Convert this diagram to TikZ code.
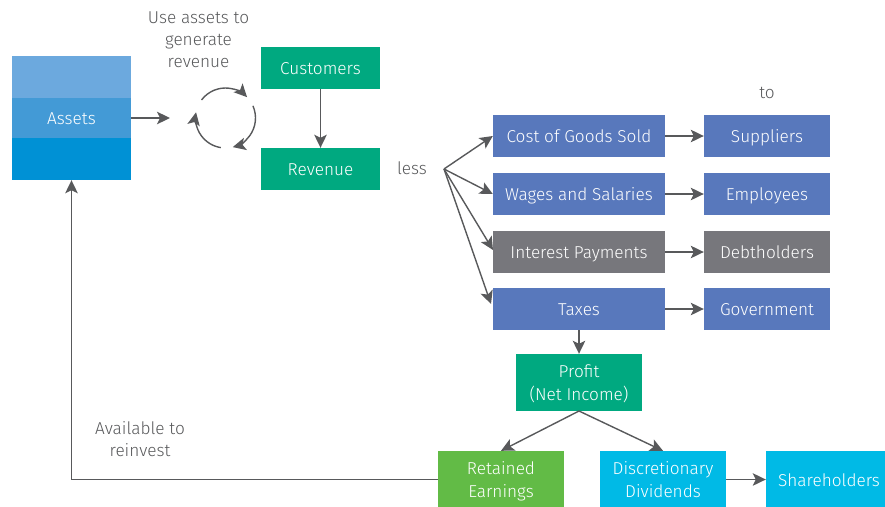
\documentclass[tikz,border=0pt]{standalone}
\usepackage{fontspec}
\setmainfont{Fira Sans}[UprightFont=* Light]
\usetikzlibrary{arrows.meta}
\newcommand{\topfill}{\rule{0pt}{18pt}}
\newcommand{\botfill}{\rule[-4.5pt]{0pt}{4.5pt}}
\definecolor{gtxt}{HTML}{58595B}
\definecolor{gline}{HTML}{58595B}
\definecolor{grn}{HTML}{00A980}
\definecolor{blu}{HTML}{5878BC}
\definecolor{gry}{HTML}{77777C}
\definecolor{lim}{HTML}{62BB46}
\definecolor{cyn}{HTML}{00BAE6}
\definecolor{bandA}{HTML}{6CA9DE}
\definecolor{bandB}{HTML}{439AD6}
\definecolor{bandC}{HTML}{0091D5}
\tikzset{
  x=1pt,y=-1pt,
  box/.style={draw=none,text=white,inner sep=0pt,align=center,font=\fontsize{17.2}{23}\selectfont,anchor=center},
  oneline/.style={box,text height=14.5pt,text depth=1.5pt},
  narrow/.style={oneline,minimum width=126pt,minimum height=42pt},
  wide/.style={oneline,minimum width=172pt,minimum height=42pt},
  band/.style={oneline,minimum width=119pt},
  tall/.style={box,minimum width=126pt,minimum height=57pt},
  lab/.style={text=gtxt,inner sep=0pt,align=center,font=\fontsize{17.2}{22}\selectfont},
  conn/.style={draw=gline,line width=1.4pt,-{Stealth[length=13pt,width=12.5pt,inset=3pt]}},
}
\begin{document}
\begin{tikzpicture}
\useasboundingbox (0,0) rectangle (885,506);
% Assets stack
\node[band,minimum height=42pt,fill=bandA] (atop) at (71.5,77) {};
\node[band,minimum height=40pt,fill=bandB] (assets) at (71.5,118) {Assets};
\node[band,minimum height=42pt,fill=bandC] (abot) at (71.5,159) {};
% Green boxes
\node[oneline,minimum width=119pt,minimum height=42pt,fill=grn] (cust) at (320.5,68) {Customers};
\node[oneline,minimum width=119pt,minimum height=42pt,fill=grn] (rev) at (320.5,169) {Revenue};
% Expense column
\node[wide,fill=blu] (cogs) at (579,136) {Cost of Goods Sold};
\node[wide,fill=blu] (wages) at (579,194) {Wages and Salaries};
\node[wide,fill=gry] (inter) at (579,252) {Interest Payments};
\node[wide,fill=blu] (taxes) at (579,309) {Taxes};
% Recipients
\node[narrow,fill=blu] (supp) at (767,136) {Suppliers};
\node[narrow,fill=blu] (empl) at (767,194) {Employees};
\node[narrow,fill=gry] (debt) at (767,252) {Debtholders};
\node[narrow,fill=blu] (govt) at (767,309) {Government};
% Bottom
\node[box,minimum width=126pt,minimum height=57pt,fill=grn] (profit) at (579,382.5) {\topfill Profit\\(Net Income)\botfill};
\node[tall,fill=lim] (ret) at (501,479.5) {\topfill Retained\\Earnings\botfill};
\node[tall,fill=cyn] (disc) at (663,479.5) {\topfill Discretionary\\Dividends\botfill};
\node[oneline,minimum width=126pt,minimum height=57pt,fill=cyn] (share) at (829,479.5) {Shareholders};
% Labels
\node[lab] (use) at (198.5,39.5) {Use assets to\\generate\\revenue};
\node[lab] (less) at (412,168.5) {less};
\node[lab] (to) at (767,92.5) {to};
\node[lab] (avail) at (140,439.5) {Available to\\reinvest};
% Free ends
\coordinate (cyc) at (225.5,118);
\coordinate (assetsend) at (170,118);
\coordinate (fork) at (444,169);
\coordinate (profittip) at (579,411);
\coordinate (intertip) at (493,250);
\coordinate (taxtip) at (491,304);
% Connectors
\draw[conn] (assets.east) -- (assetsend);
\draw[conn] (cust.south) -- (rev.north);
\draw[conn] (fork) -- (cogs.west);
\draw[conn] (fork) -- (wages.west);
\draw[conn] (fork) -- (intertip);
\draw[conn] (fork) -- (taxtip);
\draw[conn] (cogs.east) -- (supp.west);
\draw[conn] (wages.east) -- (empl.west);
\draw[conn] (inter.east) -- (debt.west);
\draw[conn] (taxes.east) -- (govt.west);
\draw[conn] (taxes.south) -- (profit.north);
\draw[conn] (profittip) -- (ret.north);
\draw[conn] (profittip) -- (disc.north);
\draw[conn] (disc.east) -- (share.west);
\draw[conn] (ret.west) -| (abot.south);
% Cycle arcs
\draw[conn] (cyc) ++(143:30pt) arc[start angle=143,end angle=44,radius=30pt];
\draw[conn] (cyc) ++(24:30pt) arc[start angle=24,end angle=-76,radius=30pt];
\draw[conn] (cyc) ++(261:30pt) arc[start angle=261,end angle=169,radius=30pt];
\end{tikzpicture}
\end{document}
